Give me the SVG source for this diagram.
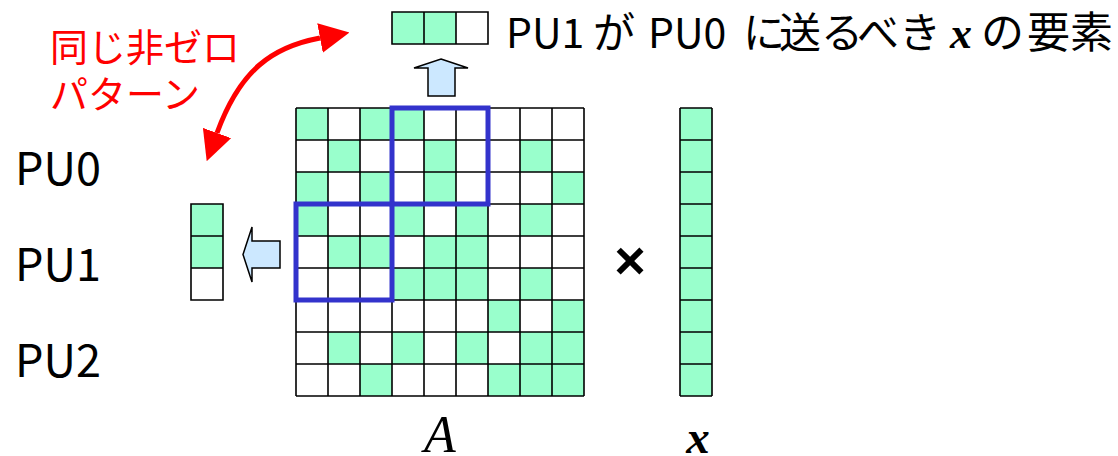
<svg xmlns="http://www.w3.org/2000/svg" width="1118" height="456" viewBox="0 0 1118 456">
<style>
.bg{fill:#fff}
.g{fill:#99ffcc}
.grid{stroke:#000;stroke-width:1.6;fill:none}
.blk{fill:#cce8ff;stroke:#000;stroke-width:1.5;stroke-linejoin:miter}
.blue{fill:none;stroke:#3333cc;stroke-width:5}
.sans{font-family:"Noto Sans CJK JP","Liberation Sans",sans-serif;fill:#000}
.red{font-family:"Noto Sans CJK JP",sans-serif;fill:#ff0000;font-size:38px}
.serif{font-family:"Liberation Serif","Times New Roman",serif;font-style:italic;fill:#000}
</style>
<defs>
<marker id="redhead" viewBox="0 0 30 30" refX="0" refY="15" markerWidth="30" markerHeight="30" markerUnits="userSpaceOnUse" orient="auto-start-reverse">
<path d="M0,0 L30,15 L0,30 z" fill="#ff0000"/>
</marker>
</defs>
<rect x="0" y="0" width="1118" height="456" fill="#fff"/>

<g id="label-note">
<text class="red"><tspan x="50" y="61">同じ非ゼロ</tspan><tspan x="50" y="108">パターン</tspan></text>
</g>

<g id="pu-labels" class="sans" font-size="45">
<text x="15" y="185">PU0</text>
<text x="15" y="281">PU1</text>
<text x="15" y="377">PU2</text>
</g>

<g id="matrix-A">
<rect class="bg" x="296" y="108" width="288" height="288"/>
<g class="g">
<rect x="296" y="108" width="32" height="32"/><rect x="360" y="108" width="32" height="32"/><rect x="392" y="108" width="32" height="32"/>
<rect x="328" y="140" width="32" height="32"/><rect x="424" y="140" width="32" height="32"/><rect x="520" y="140" width="32" height="32"/>
<rect x="296" y="172" width="32" height="32"/><rect x="360" y="172" width="32" height="32"/><rect x="424" y="172" width="32" height="32"/><rect x="552" y="172" width="32" height="32"/>
<rect x="296" y="204" width="32" height="32"/><rect x="392" y="204" width="32" height="32"/><rect x="456" y="204" width="32" height="32"/><rect x="520" y="204" width="32" height="32"/>
<rect x="328" y="236" width="32" height="32"/><rect x="360" y="236" width="32" height="32"/><rect x="424" y="236" width="32" height="32"/><rect x="456" y="236" width="32" height="32"/>
<rect x="392" y="268" width="32" height="32"/><rect x="424" y="268" width="32" height="32"/><rect x="456" y="268" width="32" height="32"/><rect x="520" y="268" width="32" height="32"/>
<rect x="488" y="300" width="32" height="32"/><rect x="552" y="300" width="32" height="32"/>
<rect x="328" y="332" width="32" height="32"/><rect x="392" y="332" width="32" height="32"/><rect x="456" y="332" width="32" height="32"/><rect x="520" y="332" width="32" height="32"/><rect x="552" y="332" width="32" height="32"/>
<rect x="360" y="364" width="32" height="32"/><rect x="488" y="364" width="32" height="32"/><rect x="520" y="364" width="32" height="32"/><rect x="552" y="364" width="32" height="32"/>
</g>
<path class="grid" d="M296 108V396M328 108V396M360 108V396M392 108V396M424 108V396M456 108V396M488 108V396M520 108V396M552 108V396M584 108V396M296 108H584M296 140H584M296 172H584M296 204H584M296 236H584M296 268H584M296 300H584M296 332H584M296 364H584M296 396H584"/>
<rect class="blue" x="392" y="108" width="96" height="96"/>
<rect class="blue" x="296" y="204" width="96" height="96"/>
<text class="serif" x="440" y="452" font-size="52" text-anchor="middle">A</text>
</g>

<g id="times">
<text x="630" y="279" font-family="Liberation Sans, Arial, sans-serif" font-weight="bold" font-size="54" text-anchor="middle">×</text>
</g>

<g id="vector-x">
<rect class="g" x="680" y="108" width="32" height="288"/>
<path class="grid" d="M680 108V396M712 108V396M680 108H712M680 140H712M680 172H712M680 204H712M680 236H712M680 268H712M680 300H712M680 332H712M680 364H712M680 396H712"/>
<text class="serif" x="698" y="453" font-size="47" font-weight="bold" text-anchor="middle">x</text>
</g>

<g id="send-vector">
<rect class="g" x="392" y="12" width="64" height="32"/>
<rect class="bg" x="456" y="12" width="32" height="32"/>
<path class="grid" d="M392 12H488V44H392ZM424 12V44M456 12V44"/>
<text class="sans" y="48" font-size="41"><tspan x="506">PU1</tspan><tspan x="593" font-size="42">が</tspan><tspan x="648">PU0</tspan><tspan x="743 779 821 857 899" font-size="42">に送るべき</tspan><tspan x="950" class="serif" font-weight="bold" font-size="44">x</tspan><tspan x="981 1027 1070" font-size="43">の要素</tspan></text>
</g>

<g id="recv-vector">
<rect class="g" x="191" y="204" width="32" height="64"/>
<rect class="bg" x="191" y="268" width="32" height="32"/>
<path class="grid" d="M191 204H223V300H191ZM191 236H223M191 268H223"/>
</g>

<g id="connectors">
<polygon class="blk" points="441,59 468,68 455,68 455,96 428,96 428,68 414,68"/>
<polygon class="blk" points="243,254.5 252,227 252,241 280,241 280,268 252,268 252,282"/>
<path d="M320 38 C272 47, 240 70, 217 133" fill="none" stroke="#ff0000" stroke-width="5" marker-start="url(#redhead)" marker-end="url(#redhead)"/>
</g>
</svg>
